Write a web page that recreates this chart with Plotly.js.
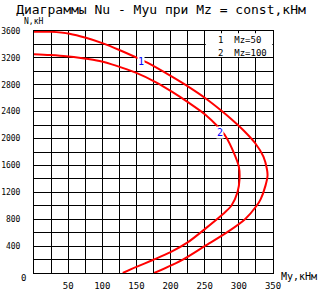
<!DOCTYPE html>
<html><head><meta charset="utf-8">
<script src="https://cdn.plot.ly/plotly-3.0.1.min.js"></script>
<style>html,body{margin:0;padding:0;background:#fff}#chart{width:322px;height:293px}</style>
</head><body><div id="chart"></div>
<script>
// Curve 1: Mz = 50
const my1 = [0, 25, 52, 76, 100, 125, 149, 166, 202, 227, 251, 275, 290, 307, 324, 336, 341, 342, 339, 332, 326, 309, 282, 250, 218, 176];
const n1  = [3590, 3588, 3560, 3500, 3420, 3318, 3210, 3128, 2920, 2765, 2600, 2410, 2280, 2120, 1930, 1730, 1550, 1450, 1300, 1100, 1000, 800, 600, 400, 200, 0];
// Curve 2: Mz = 100
const my2 = [0, 23, 47, 71, 96, 120, 149, 178, 203, 227, 251, 268, 281, 293, 300, 301, 298, 289, 276, 251, 225, 200, 174, 150, 130];
const n2  = [3255, 3243, 3226, 3196, 3154, 3085, 2980, 2840, 2690, 2530, 2355, 2190, 2028, 1781, 1581, 1400, 1200, 1000, 870, 660, 455, 310, 193, 90, 0];
const legendLabels = ["1  Mz=50", "2  Mz=100"];
const curveLabels = ["1", "2"];
const xTicks = [25, 50, 75, 100, 125, 150, 175, 200, 225, 250, 275, 300, 325, 350];
const yTicks = [200, 400, 600, 800, 1000, 1200, 1400, 1600, 1800, 2000, 2200, 2400, 2600, 2800, 3000, 3200, 3400, 3600];

const F = "DejaVu Sans Mono, Liberation Mono, monospace";
const traces = [
  {x: my1, y: n1, mode: "lines", line: {color: "#ff0000", width: 2, shape: "spline", smoothing: 0.8}, showlegend: false, hoverinfo: "skip"},
  {x: my2, y: n2, mode: "lines", line: {color: "#ff0000", width: 2, shape: "spline", smoothing: 0.8}, showlegend: false, hoverinfo: "skip"}
];
const ann = (text, x, y, size, extra) => Object.assign({text, xref: "paper", yref: "paper", x, y, xanchor: "center", yanchor: "middle", showarrow: false, font: {family: F, size, color: "#000"}}, extra || {});
const layout = {
  width: 322, height: 293,
  margin: {l: 34, r: 49, t: 31, b: 20},
  paper_bgcolor: "#fff", plot_bgcolor: "#fff",
  title: {text: "Диаграммы Nu - Myu при Mz = const,кНм", font: {family: F, size: 13, color: "#000"}, x: 0.5, xanchor: "center", y: 0.968, yanchor: "middle"},
  xaxis: {range: [0, 350], tickvals: xTicks, ticktext: xTicks.map(v => v % 50 === 0 ? String(v) : ""),
    showgrid: true, gridcolor: "#000", gridwidth: 1, zeroline: false, showline: true, linecolor: "#000", linewidth: 1, mirror: true,
    ticks: "", ticklabelstandoff: 4, tickfont: {family: F, size: 9, color: "#000"}, fixedrange: true},
  yaxis: {range: [0, 3600], tickvals: yTicks, ticktext: yTicks.map(v => v % 400 === 0 ? String(v) : ""),
    showgrid: true, gridcolor: "#000", gridwidth: 1, zeroline: false, showline: true, linecolor: "#000", linewidth: 1, mirror: true,
    ticks: "", ticklabelstandoff: 11, tickfont: {family: F, size: 8, color: "#000"}, fixedrange: true},
  shapes: [
    {type: "rect", xref: "x", yref: "y", x0: 251.5, x1: 349, y0: 3215, y1: 3565, fillcolor: "#fff", line: {width: 0}, layer: "above"}
  ],
  annotations: [
    ann("N,кН", -0.004, 1.04, 8),
    ann("My,кНм", 1.109, -0.0165, 10),
    ann("0", -0.042, -0.021, 9),
    ann(legendLabels[0], 0.762, 0.963, 9, {xanchor: "left"}),
    ann(legendLabels[1], 0.762, 0.909, 9, {xanchor: "left"}),
    {text: curveLabels[0], xref: "x", yref: "y", x: 157, y: 3140, xanchor: "center", yanchor: "middle", showarrow: false, bgcolor: "#fff", borderpad: 0, font: {family: F, size: 10, color: "#0000ff"}},
    {text: curveLabels[1], xref: "x", yref: "y", x: 273, y: 2095, xanchor: "center", yanchor: "middle", showarrow: false, bgcolor: "#fff", borderpad: 0, font: {family: F, size: 10, color: "#0000ff"}}
  ]
};
Plotly.newPlot("chart", traces, layout, {staticPlot: true, displayModeBar: false});
</script></body></html>
